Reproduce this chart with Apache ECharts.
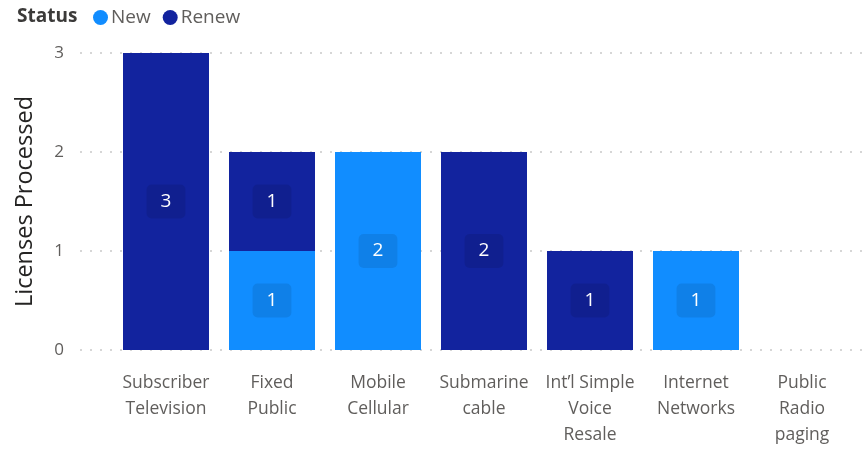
<!DOCTYPE html>
<html>
<head>
<meta charset="utf-8">
<script src="https://cdn.jsdelivr.net/npm/echarts@6/dist/echarts.min.js"></script>
<style>
  html, body { margin: 0; padding: 0; background: #ffffff; }
  #chart { width: 867px; height: 451px; }
</style>
</head>
<body>
<div id="chart"></div>
<script>
// License types (wrapped the way they appear under each column)
const categories = [
  'Subscriber\nTelevision',
  'Fixed\nPublic',
  'Mobile\nCellular',
  'Submarine\ncable',
  'Int\u2019l Simple\nVoice\nResale',
  'Internet\nNetworks',
  'Public\nRadio\npaging'
];
const newCounts   = [0, 1, 2, 0, 0, 1, 0];
const renewCounts = [3, 1, 0, 2, 1, 0, 0];
const yTicks = [0, 1, 2, 3];

const FONT = '"Segoe UI", "Open Sans", "Noto Sans", sans-serif';
const COLOR_NEW = '#118DFF';
const COLOR_RENEW = '#12239E';

const chart = echarts.init(document.getElementById('chart'), null, { renderer: 'canvas' });

const labelStyle = {
  show: true,
  position: 'inside',
  color: '#ffffff',
  fontFamily: FONT,
  fontSize: 19,
  backgroundColor: 'rgba(0,0,0,0.09)',
  borderRadius: 5,
  padding: [8, 14, 7, 14]
};

// empty segments carry no label
const toItems = arr => arr.map(v => ({ value: v, label: { show: v > 0 } }));

chart.setOption({
  backgroundColor: '#ffffff',
  animation: false,
  textStyle: { fontFamily: FONT },
  title: {
    text: 'Status',
    left: 17,
    top: 7,
    padding: 0,
    textStyle: { fontFamily: FONT, fontSize: 19, fontWeight: 'bold', color: '#3b3a39' }
  },
  legend: {
    left: 93,
    top: 8,
    padding: 0,
    icon: 'circle',
    itemWidth: 15,
    itemHeight: 15,
    itemGap: 12,
    itemStyle: { borderWidth: 0 },
    textStyle: { fontFamily: FONT, fontSize: 19, color: '#605E5C', padding: [0, 0, 0, -2] },
    data: ['New', 'Renew']
  },
  grid: [
    // columns
    { left: 113, right: 12, top: 53, bottom: 101 },
    // value scale with dotted gridlines spanning the full width
    { left: 80, right: 3, top: 53, bottom: 101 }
  ],
  xAxis: [
    {
      gridIndex: 0,
      type: 'category',
      data: categories,
      axisLine: { show: false },
      axisTick: { show: false },
      axisLabel: {
        color: '#605E5C',
        fontFamily: FONT,
        fontSize: 17.5,
        lineHeight: 26,
        margin: 20,
        interval: 0
      }
    },
    {
      gridIndex: 1,
      type: 'value',
      show: false
    }
  ],
  yAxis: [
    {
      gridIndex: 0,
      type: 'value',
      min: yTicks[0],
      max: yTicks[yTicks.length - 1],
      interval: 1,
      show: false,
      splitLine: { show: false }
    },
    {
      gridIndex: 1,
      type: 'value',
      min: yTicks[0],
      max: yTicks[yTicks.length - 1],
      interval: 1,
      name: 'Licenses Processed',
      nameLocation: 'middle',
      nameRotate: 90,
      nameGap: 43,
      nameTextStyle: { fontFamily: FONT, fontSize: 23.5, color: '#252423' },
      axisLine: { show: false },
      axisTick: { show: false },
      axisLabel: { color: '#605E5C', fontFamily: FONT, fontSize: 17, margin: 16 },
      splitLine: {
        show: true,
        lineStyle: { color: '#D6D6D6', width: 2, type: [2, 8] }
      }
    }
  ],
  series: [
    {
      name: 'New',
      type: 'bar',
      stack: 'status',
      xAxisIndex: 0,
      yAxisIndex: 0,
      barWidth: 86,
      itemStyle: { color: COLOR_NEW },
      label: labelStyle,
      data: toItems(newCounts),
      z: 3
    },
    {
      name: 'Renew',
      type: 'bar',
      stack: 'status',
      xAxisIndex: 0,
      yAxisIndex: 0,
      barWidth: 86,
      itemStyle: { color: COLOR_RENEW },
      label: labelStyle,
      data: toItems(renewCounts),
      z: 3
    }
  ]
});
</script>
</body>
</html>
